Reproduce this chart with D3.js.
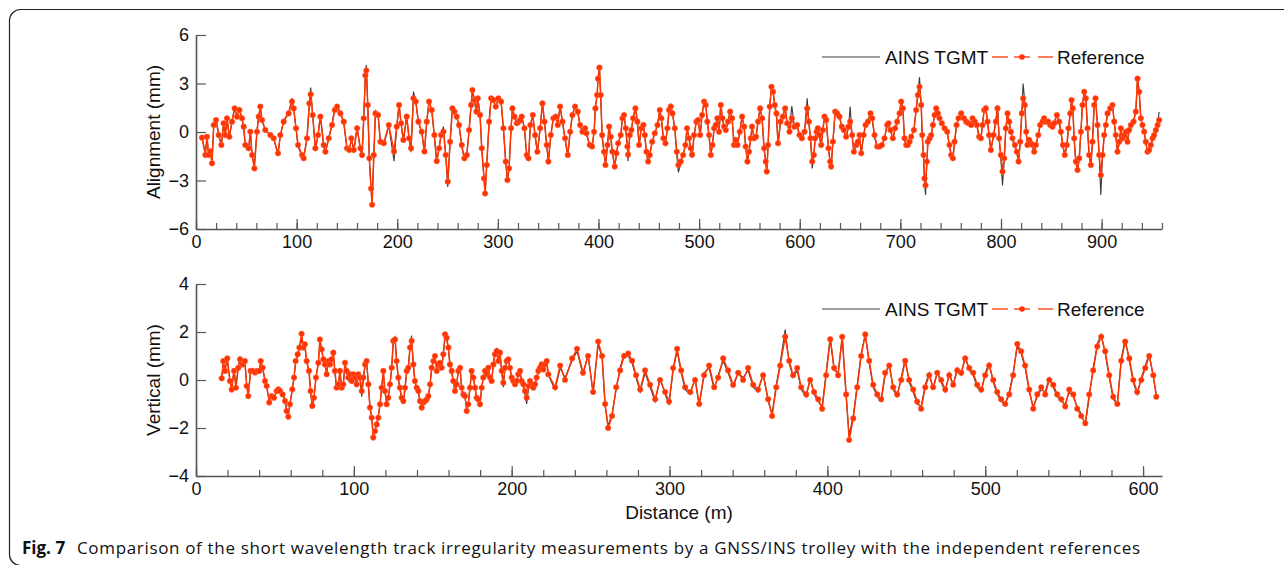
<!DOCTYPE html>
<html>
<head>
<meta charset="utf-8">
<title>Fig. 7</title>
<script src="https://d3js.org/d3.v7.min.js"></script>
<style>
  body { margin: 0; background: #fff; }
  svg text { font-family: "Liberation Sans", Arial, sans-serif; fill: #111; }
  .caption text { font-family: "Open Sans", "Noto Sans", sans-serif; }
  .axis path, .axis line { stroke: #555; }
</style>
</head>
<body>
<svg id="fig" width="1284" height="565"></svg>
<script>
// alignment panel (distance in m, irregularity in mm)
var alignDist = [6.0,9.3,10.9,12.6,14.2,15.9,17.6,19.9,22.5,25.2,27.5,29.2,30.8,33.1,35.8,38.4,40.8,43.1,45.7,47.4,49.0,52.3,54.0,55.7,58.0,60.6,62.3,63.9,65.6,68.9,73.9,77.2,81.5,83.8,87.1,92.1,95.4,97.1,99.4,101.4,105.4,107.0,110.3,112.7,114.0,116.0,118.6,121.3,123.6,126.9,128.6,131.9,135.2,137.9,140.2,143.5,146.8,150.1,152.4,154.4,156.8,160.1,163.4,165.0,166.7,168.3,169.3,170.7,172.3,174.0,175.0,176.7,178.3,181.0,183.3,186.6,191.6,
  196.8,199.5,201.8,203.8,206.1,209.4,211.8,213.7,216.1,218.4,221.0,224.3,227.0,229.3,231.6,234.3,236.9,239.2,241.6,243.6,245.9,248.2,250.2,252.5,254.8,256.8,259.1,261.4,264.1,266.7,269.1,271.4,273.4,274.7,276.7,278.7,280.0,282.3,284.0,286.3,287.3,288.9,291.3,293.3,295.6,297.9,300.5,303.2,305.5,307.8,309.5,311.1,313.1,314.5,316.4,318.8,320.4,322.1,323.7,326.4,328.7,330.4,332.3,334.7,337.0,339.3,342.0,344.3,346.3,348.6,350.2,352.6,355.2,357.5,359.5,361.8,364.2,366.8,369.5,371.8,374.1,376.7,379.4,381.7,384.0,386.7,
  388.0,391.3,393.6,395.6,396.9,398.6,399.6,400.9,402.2,403.6,405.5,406.9,408.9,410.5,412.2,413.8,416.1,417.8,419.5,422.1,423.8,425.4,427.1,428.7,429.4,431.1,432.7,434.4,436.7,438.7,440.3,442.6,444.6,446.0,447.6,449.3,450.9,453.3,455.9,458.6,460.9,462.5,464.5,466.5,468.5,470.1,471.8,473.5,475.8,477.8,479.4,481.7,484.1,486.4,488.0,490.0,491.7,493.0,495.0,497.3,499.0,501.0,503.0,504.9,506.6,508.2,509.9,511.6,513.2,514.9,516.5,518.2,519.8,521.5,523.2,524.8,526.5,528.8,530.8,532.8,534.7,536.1,538.1,540.4,542.7,544.7,546.3,548.0,549.6,551.3,552.6,554.6,556.6,558.6,560.6,562.6,564.6,566.2,567.2,568.5,570.2,571.9,573.5,575.2,576.8,
  578.4,580.9,583.2,585.5,587.5,589.8,592.1,594.8,597.4,599.8,602.1,604.7,607.4,609.0,610.7,612.4,614.0,615.3,616.7,618.0,619.6,621.3,623.0,624.6,626.3,628.6,630.2,631.2,632.9,635.2,637.2,639.5,641.8,643.8,646.1,648.5,650.1,652.1,653.8,656.1,657.7,659.4,661.1,663.4,665.4,667.7,670.3,672.0,674.3,677.0,679.3,681.6,684.2,686.9,688.2,690.2,692.5,694.8,696.8,699.2,700.8,702.5,704.1,705.8,707.4,709.1,710.7,713.4,715.7,717.4,719.0,720.7,721.7,723.0,724.0,725.0,726.3,727.3,729.0,730.6,732.3,734.0,735.6,737.3,738.9,741.2,743.9,746.5,748.8,750.5,752.2,753.8,755.8,757.8,760.4,763.1,765.4,767.7,770.4,
  771.7,774.0,776.0,778.3,780.0,781.6,783.3,784.9,786.6,788.2,789.9,792.6,794.9,796.5,798.2,799.8,801.5,803.2,804.8,806.5,808.1,809.8,811.4,813.8,815.7,817.4,819.1,820.7,822.0,823.7,825.0,826.3,828.0,829.7,831.3,833.0,834.6,837.0,838.9,841.3,842.9,844.6,846.9,848.9,851.2,852.9,855.5,857.8,859.5,861.5,863.4,865.4,867.1,868.8,870.1,871.4,872.7,874.4,876.0,877.7,879.4,881.0,882.7,884.3,886.0,887.6,889.3,890.9,892.6,893.9,895.9,897.6,899.2,900.9,902.5,904.2,905.9,908.5,910.8,912.5,914.1,915.8,917.5,919.1,920.8,922.4,924.1,925.7,927.4,929.1,931.7,934.0,935.7,937.3,939.0,940.6,942.3,943.9,945.6,947.3,948.9,950.6,952.2,953.9,955.6,957.2];
var alignRef = [-0.35,-1.42,-0.29,-1.42,-1.2,-1.94,0.43,0.74,-0.19,-0.80,0.54,-0.19,0.85,-0.29,0.64,1.46,0.95,1.36,0.85,0.33,-0.80,-1.01,0.02,-1.42,-2.25,0.02,0.95,1.57,0.74,0.12,-0.19,-0.39,-1.32,-0.19,0.64,1.15,1.88,1.46,0.23,-0.80,-1.42,-1.63,-0.39,1.77,2.33,1.05,-1.01,-0.19,0.95,-0.80,-1.22,-0.39,0.43,1.36,1.57,1.15,0.64,-1.01,-1.11,-0.39,-1.11,0.23,-1.01,-1.42,0.85,3.50,3.8,1.67,-1.63,-3.50,-4.5,-1.42,1.15,1.05,-0.60,-0.70,0.43,
  -1.2,0.33,1.67,0.54,-0.49,0.95,-0.39,-1.0,2.08,1.88,0.64,0.02,-1.2,0.64,1.88,1.36,-0.19,-1.8,-1.01,-0.19,0.02,-1.42,-3.07,-0.6,1.46,1.26,0.95,0.43,-0.80,-1.63,-1.42,0.12,1.67,2.6,1.98,1.26,2.08,1.05,-1.01,-2.87,-3.8,-2.04,0.64,2.08,1.98,1.57,2.08,1.88,0.23,-1.83,-2.97,-2.25,0.23,1.46,0.95,0.54,0.64,0.74,0.95,0.23,-1.42,-1.63,0.43,1.05,-0.19,-1.22,0.23,1.77,0.64,-0.80,-1.83,-0.19,0.85,0.95,0.43,1.57,0.64,-0.39,-1.42,0.02,1.05,1.57,1.26,0.43,0.02,0.23,
  -0.08,-0.80,-0.90,0.02,1.46,2.29,3.30,3.98,2.29,-0.19,-1.22,-2.04,-0.80,0.33,-0.29,-1.22,-2.14,-1.32,-0.70,-0.19,0.85,1.05,0.23,-0.90,-1.4,-0.19,0.12,0.85,1.46,0.64,-0.80,0.23,0.43,-0.19,-1.22,-1.83,-1.42,-0.60,-0.08,0.43,1.36,0.85,-0.39,-0.70,0.23,1.36,1.57,1.15,0.23,-1.22,-2.04,-1.83,-1.42,-0.80,0.23,-0.39,-1.01,-1.4,-0.19,0.64,0.74,-0.19,1.05,1.88,1.67,0.64,-0.19,-1.42,-0.80,0.23,0.43,0.85,0.02,1.67,0.85,0.33,0.12,0.64,1.26,0.85,-0.80,-0.49,-0.80,0.02,0.95,0.33,-0.90,-1.83,-1.22,-0.39,0.33,-0.39,-0.29,0.64,1.46,0.85,-1.01,-1.83,-2.45,-0.80,1.57,2.80,2.49,1.67,1.15,
  -0.70,0.64,0.95,1.46,0.54,0.02,0.85,0.33,0.43,-0.19,-0.39,0.02,1.46,0.64,-0.39,-1.83,-1.42,-0.39,0.02,0.23,-0.19,-0.80,0.12,0.95,0.74,-1.01,-1.83,-2.14,-0.60,1.26,1.15,0.95,0.33,0.12,-0.29,0.33,0.64,-0.19,-1.22,-0.80,-0.60,-0.19,-1.32,-0.19,0.43,0.64,1.15,0.85,-0.19,-0.90,-0.90,-0.80,-0.39,0.43,0.54,0.12,-0.39,0.23,0.64,1.15,1.88,1.46,-0.39,-0.80,-0.80,-0.60,-0.29,0.12,1.36,2.29,2.80,1.67,-0.19,-1.42,-2.87,-3.30,-1.83,-0.60,-0.39,-0.19,0.43,1.05,1.46,1.15,0.85,0.54,0.23,0.02,-0.80,-1.42,-1.63,-0.60,0.43,0.85,1.15,0.85,0.64,0.54,0.43,
  0.85,0.64,0.43,-0.29,-0.39,0.43,1.36,1.46,0.64,-0.19,-1.11,-0.19,0.64,1.46,-0.39,-1.42,-2.45,-1.63,0.23,1.15,0.64,0.02,-0.39,-0.80,-1.22,-1.83,-0.60,1.15,2.08,1.67,0.02,-0.80,-0.49,-0.70,-0.80,-1.22,-0.80,-0.19,0.43,0.64,0.85,0.64,0.64,0.43,0.33,0.54,1.05,0.64,0.02,-0.80,-1.42,-0.80,0.23,1.15,1.98,1.46,-0.39,-1.83,-2.35,-1.63,0.02,1.67,2.49,2.08,0.23,-1.42,-2.04,-0.60,1.67,2.08,0.43,-1.42,-2.66,-1.42,-0.19,0.43,1.15,1.46,1.67,0.64,-0.19,-1.22,-0.60,0.23,-0.39,-0.19,0.02,-0.60,0.12,0.43,0.64,1.26,3.30,2.49,0.85,0.43,0.02,-0.60,-1.22,-1.11,-0.80,-0.39,-0.19,0.12,0.43,0.74];
var alignAins = [-0.35,-1.3,-0.35,-1.5,-1.1,-1.8,0.35,0.8,-0.1,-0.9,0.6,-0.1,0.9,-0.4,0.7,1.5,1.0,1.45,0.8,0.2,-0.9,-1.1,0.1,-1.5,-2.1,0.1,1.0,1.5,0.7,0.1,-0.2,-0.4,-1.45,-0.2,0.7,1.2,2.1,1.4,0.2,-0.9,-1.5,-1.6,-0.4,1.9,2.75,1.0,-1.1,-0.2,1.1,-0.9,-1.3,-0.4,0.5,1.5,1.6,1.2,0.6,-1.1,-1.2,-0.4,-1.2,0.3,-1.1,-1.6,0.9,3.6,4.15,1.6,-1.8,-3.6,-4.3,-1.6,1.3,1.0,-0.7,-0.8,0.4,
  -1.8,0.3,1.75,0.5,-0.6,1.0,-0.5,-1.25,2.5,1.9,0.6,0.0,-1.3,0.6,1.95,1.3,-0.3,-1.9,-1.0,-0.1,0.33,-1.5,-3.4,-0.7,1.5,1.2,0.9,0.4,-0.9,-1.7,-1.4,0.1,1.7,2.7,1.9,1.2,2.15,1.0,-1.1,-3.0,-3.9,-2.1,0.6,2.1,1.9,1.5,2.15,1.9,0.2,-1.9,-3.1,-2.3,0.2,1.5,0.9,0.5,0.6,0.8,1.0,0.2,-1.5,-1.7,0.4,1.1,-0.3,-1.3,0.2,1.85,0.6,-0.9,-1.9,-0.2,0.9,1.0,0.4,1.65,0.6,-0.5,-1.5,0.0,1.1,1.6,1.2,0.4,0.0,0.2,
  -0.1,-0.9,-1.0,0.0,1.5,2.3,3.4,4.05,2.2,-0.3,-1.3,-2.1,-0.9,0.3,-0.4,-1.3,-2.2,-1.4,-0.7,-0.2,0.9,1.1,0.2,-1.0,-1.8,-0.2,0.1,0.9,1.55,0.6,-0.9,0.3,0.5,-0.2,-1.3,-1.9,-1.5,-0.6,-0.1,0.4,1.4,0.8,-0.5,-0.8,0.2,1.4,1.7,1.2,0.2,-1.4,-2.5,-1.9,-1.4,-0.8,0.3,-0.4,-1.1,-1.6,-0.2,0.7,0.8,-0.2,1.1,1.95,1.7,0.6,-0.3,-1.5,-0.8,0.2,0.5,0.9,0.0,1.75,0.8,0.3,0.1,0.7,1.3,0.8,-0.9,-0.5,-0.9,0.0,1.0,0.3,-1.0,-1.95,-1.2,-0.4,0.4,-0.5,-0.3,0.7,1.5,0.8,-1.1,-1.9,-2.5,-0.9,1.6,2.9,2.5,1.6,1.1,
  -0.8,0.6,1.0,1.5,0.5,0.1,1.6,0.3,0.4,-0.3,-0.5,0.0,2.08,0.6,-0.5,-2.25,-1.5,-0.4,0.0,0.2,-0.3,-0.9,0.1,1.0,0.7,-1.1,-1.9,-2.25,-0.7,1.3,1.1,0.9,0.3,0.1,-0.4,0.3,1.57,-0.3,-1.3,-0.8,-0.7,-0.3,-1.4,-0.2,0.4,0.7,1.2,0.8,-0.3,-1.0,-1.0,-0.9,-0.4,0.5,0.6,0.1,-0.5,0.2,0.7,1.2,2.0,1.4,-0.5,-0.9,-0.9,-0.7,-0.3,0.1,1.4,2.4,3.4,1.7,-0.3,-1.6,-3.1,-3.9,-2.0,-0.7,-0.4,-0.2,0.4,1.1,1.5,1.1,0.8,0.5,0.2,0.0,-0.9,-1.5,-1.7,-0.7,0.4,0.9,1.2,0.8,0.6,0.5,0.4,
  0.9,0.6,0.4,-0.4,-0.5,0.5,1.4,1.6,0.6,-0.3,-1.2,-0.2,0.7,1.67,-0.5,-1.6,-3.3,-1.8,0.2,1.2,0.6,0.0,-0.5,-0.9,-1.3,-1.9,-0.7,1.3,3.0,1.8,0.0,-0.9,-0.6,-0.8,-0.9,-1.3,-0.9,-0.2,0.5,0.7,0.9,0.6,0.6,0.4,0.3,0.6,1.1,0.6,0.0,-0.9,-1.5,-0.9,0.2,1.2,2.1,1.5,-0.5,-1.9,-2.5,-1.7,0.0,1.7,2.6,2.1,0.2,-1.5,-2.15,-0.7,1.7,2.15,0.4,-1.5,-3.9,-1.5,-0.3,0.4,1.2,1.5,1.75,0.6,-0.3,-1.3,-0.7,0.2,-0.5,-0.3,0.0,-0.7,0.1,0.4,0.7,1.3,3.45,2.5,0.8,0.4,0.0,-0.7,-1.3,-1.2,-0.9,-0.5,-0.2,0.2,0.6,1.25];

// vertical panel
var vertDist = [16.3,17.3,18.4,19.8,21.5,22.6,24.1,25.3,26.8,27.9,29.5,31.0,32.1,33.1,34.6,35.9,37.4,38.8,40.1,41.0,42.2,43.7,44.8,46.4,47.9,49.4,51.1,52.2,53.2,54.9,56.4,57.4,58.5,59.5,61.0,62.1,63.1,64.4,65.5,66.9,68.0,69.0,70.1,71.6,72.6,73.7,74.7,76.0,77.5,
  78.5,79.6,80.7,81.7,82.8,83.8,84.9,85.9,87.0,88.0,89.1,90.2,91.2,92.3,93.3,94.4,95.4,96.5,97.6,98.6,99.7,100.7,101.8,102.8,103.9,105.0,106.0,107.1,108.1,109.2,110.2,111.3,112.3,113.4,114.5,115.5,116.6,117.6,118.7,119.7,120.8,121.8,122.9,124.0,125.0,126.1,127.1,128.2,129.2,130.3,131.4,132.4,133.5,134.5,135.6,136.6,137.7,138.7,139.8,140.9,141.9,143.0,144.0,145.1,146.1,147.2,148.3,149.3,150.4,151.4,152.5,153.5,154.6,155.6,156.7,157.8,158.8,159.9,160.9,162.0,163.0,164.1,165.1,166.2,167.3,168.3,169.4,170.4,171.5,172.5,173.6,174.6,175.7,176.8,177.8,178.9,179.9,181.0,182.0,183.1,184.2,185.2,186.3,187.3,188.4,189.4,190.5,191.5,192.6,193.7,194.7,195.8,196.8,197.9,198.9,200.0,201.0,202.1,203.2,204.2,205.3,206.3,207.4,208.4,209.5,210.6,211.6,212.7,213.7,214.8,215.8,216.9,217.9,219.0,220.1,221.1,222.2,223.2,
  227.5,230.7,233.8,238.3,241.4,245.2,248.4,251.6,254.8,257.3,259.2,261.1,263.6,266.2,268.7,271.2,273.8,276.3,278.8,281.4,284.5,287.7,290.9,294.0,297.2,299.7,302.3,304.8,307.4,309.9,313.1,316.2,318.8,321.9,325.1,328.3,330.8,334.0,337.1,340.3,343.5,346.6,349.8,353.0,356.1,359.3,362.5,365.0,367.6,370.1,373.3,375.8,378.3,380.9,383.4,386.6,389.1,391.6,394.2,396.7,399.2,401.8,404.3,406.8,409.4,411.9,413.8,416.4,418.9,421.4,424.0,426.5,429.0,431.6,434.1,436.6,439.2,441.7,444.2,446.8,449.3,451.8,454.4,456.9,459.4,462.0,464.5,467.0,469.6,472.1,474.7,477.2,479.7,482.3,484.8,487.3,489.9,492.4,494.9,497.5,500.0,502.5,505.1,507.6,510.1,512.7,515.2,517.7,520.3,522.8,525.3,527.9,530.4,533.0,535.5,538.0,540.6,543.1,545.6,548.2,550.7,553.2,555.8,558.3,560.8,563.4,565.9,568.4,571.0,573.5,576.0,578.6,581.1,583.7,586.2,588.7,591.3,593.8,596.3,598.9,601.4,603.9,606.5,608.4];
var vertRef = [0.07,0.79,0.38,0.90,-0.04,-0.40,0.38,-0.32,0.51,0.86,0.65,0.79,-0.25,-0.67,0.38,0.38,0.31,0.38,0.38,0.79,0.51,-0.04,-0.25,-0.94,-0.67,-0.74,-0.46,-0.39,-0.46,-0.60,-0.88,-1.29,-1.53,-1.01,-0.39,0.10,0.79,1.07,1.35,1.93,1.35,1.49,0.79,0.38,-0.46,-1.08,-0.74,0.10,0.72,
  1.69,1.28,0.86,0.65,0.24,0.79,0.65,0.86,1.14,0.38,-0.32,-0.18,0.38,-0.32,-0.18,0.72,0.38,0.10,0.24,-0.04,0.24,0.10,-0.18,0.24,0.10,-0.46,0.10,0.65,0.79,-0.18,-1.15,-1.57,-2.40,-2.13,-1.85,-1.57,-1.01,-0.32,0.38,-0.46,-1.01,-0.74,-0.18,0.51,1.63,1.69,0.79,0.10,-0.32,-0.74,-0.88,-0.32,0.38,0.51,1.35,1.63,0.65,-0.04,-0.32,-0.46,-0.88,-1.15,-0.94,-0.88,-0.81,-0.67,-0.18,0.51,0.79,1.00,0.38,0.65,0.72,0.51,1.07,1.90,1.76,1.35,0.65,0.38,-0.04,-0.46,-0.18,0.38,0.51,-0.32,-0.60,-0.67,-1.29,-1.01,-0.32,0.38,0.10,-0.32,-0.74,-0.81,-1.01,-0.32,0.10,0.38,0.24,0.51,0.10,-0.04,0.65,1.07,1.21,0.79,1.14,0.38,-0.11,0.51,0.79,0.86,0.51,0.10,-0.04,-0.18,-0.04,0.24,0.38,-0.04,-0.18,-0.46,-0.74,-0.25,-0.04,-0.18,-0.32,-0.18,0.10,0.38,0.51,0.65,0.44,0.65,0.79,0.24,
  -0.3,0.6,0.0,0.9,1.3,0.3,1.0,-0.5,1.6,1.0,-1.0,-2.0,-1.5,-0.3,0.4,1.0,1.1,0.8,0.2,-0.4,0.4,-0.2,-0.8,0.0,-0.5,-0.9,0.5,1.3,0.4,-0.3,-0.5,0.0,-1.0,0.2,0.6,-0.3,0.1,0.9,0.4,-0.2,0.3,0.0,0.5,-0.2,-0.4,0.2,-0.8,-1.5,-0.3,0.6,1.8,0.8,0.2,0.5,-0.3,-0.6,0.0,-0.5,-0.8,-1.2,0.2,1.7,0.5,0.2,1.8,-0.6,-2.5,-1.6,-0.3,1.0,1.9,0.8,-0.2,-0.6,-0.8,0.3,0.6,-0.3,-0.6,0.0,0.8,0.0,-0.4,-0.9,-1.2,-0.3,0.2,-0.3,0.3,0.0,-0.4,0.2,-0.2,0.4,0.3,0.9,0.5,0.3,-0.2,-0.4,0.2,0.6,0.0,-0.5,-0.8,-1.0,-0.6,0.2,1.5,1.2,0.6,-0.4,-1.2,-0.6,-0.3,-0.6,0.0,-0.2,-0.6,-0.8,-1.1,-0.4,-0.6,-1.2,-1.5,-1.8,-0.6,0.4,1.4,1.8,1.2,0.2,-0.7,-1.0,0.8,1.6,0.9,0.0,-0.5,0.0,0.5,1.0,0.2,-0.7];
var vertAins = [0.1,0.7,0.45,0.85,0.0,-0.35,0.45,-0.25,0.55,0.95,0.7,0.75,-0.2,-0.6,0.4,0.4,0.35,0.4,0.4,0.75,0.5,0.0,-0.3,-0.85,-0.7,-0.7,-0.5,-0.4,-0.45,-0.55,-0.8,-1.2,-1.4,-1.0,-0.4,0.1,0.7,1.0,1.3,1.7,1.3,1.35,0.75,0.35,-0.5,-1.15,-0.8,0.1,0.7,
  1.6,1.2,0.9,0.6,0.3,0.7,0.6,0.8,1.05,0.3,-0.4,-0.2,0.3,-0.4,-0.2,0.6,0.3,0.0,0.2,-0.1,0.2,0.0,-0.3,0.2,0.0,-0.7,0.0,0.6,0.8,-0.2,-1.1,-1.5,-2.3,-2.1,-1.8,-1.5,-1.0,-0.3,0.3,-0.5,-1.0,-0.8,-0.2,0.5,1.7,1.8,0.8,0.0,-0.4,-0.8,-1.0,-0.4,0.3,0.5,1.4,1.85,0.6,-0.1,-0.4,-0.5,-0.9,-1.1,-1.0,-0.9,-0.8,-0.7,-0.2,0.5,0.8,1.0,0.4,0.6,0.7,0.5,1.1,1.8,1.7,1.3,0.6,0.3,-0.1,-0.5,-0.2,0.4,0.5,-0.4,-0.7,-0.7,-1.2,-1.0,-0.3,0.4,0.1,-0.3,-0.8,-0.9,-1.1,-0.3,0.1,0.3,0.2,0.5,0.1,-0.1,0.7,1.2,1.3,0.8,1.1,0.3,-0.3,0.5,0.8,0.9,0.5,0.1,-0.1,-0.2,-0.1,0.2,0.3,-0.1,-0.3,-0.6,-1.0,-0.4,-0.1,-0.2,-0.3,-0.2,0.1,0.3,0.5,0.6,0.4,0.6,0.8,0.2,
  -0.4,0.5,0.1,0.8,1.2,0.2,1.1,-0.6,1.5,0.9,-1.1,-1.9,-1.4,-0.4,0.5,1.1,1.0,0.7,0.1,-0.5,0.3,-0.3,-0.9,0.1,-0.6,-1.0,0.4,1.2,0.3,-0.4,-0.6,0.1,-1.1,0.3,0.5,-0.4,0.2,0.8,0.3,-0.3,0.3,0.1,0.4,-0.3,-0.5,0.3,-0.9,-1.4,-0.2,0.7,2.1,0.7,0.1,0.4,-0.4,-0.7,0.1,-0.6,-0.9,-1.1,0.3,1.8,0.4,0.3,1.8,-0.7,-2.3,-1.5,-0.2,1.1,1.9,0.7,-0.3,-0.7,-0.9,0.2,0.7,-0.4,-0.7,0.1,0.9,-0.1,-0.5,-1.0,-1.1,-0.2,0.3,-0.4,0.3,-0.1,-0.5,0.3,-0.2,0.5,0.2,1.0,0.4,0.2,-0.3,-0.5,0.3,0.7,-0.1,-0.6,-0.9,-1.0,-0.5,0.3,1.4,1.1,0.5,-0.5,-1.1,-0.7,-0.4,-0.5,0.1,-0.3,-0.7,-0.9,-1.0,-0.5,-0.7,-1.1,-1.4,-1.9,-0.7,0.5,1.5,1.9,1.1,0.1,-0.8,-1.0,0.9,1.7,0.8,-0.1,-0.6,0.1,0.6,1.1,0.1,-0.6];

var panels = [
  {title: "Alignment (mm)", top: 35, bottom: 229, xMax: 960, yDomain: [-6, 6], yTicks: [-6, -3, 0, 3, 6],
   xTicks: d3.range(0, 901, 100), legendY: 57, dist: alignDist, ref: alignRef, ains: alignAins},
  {title: "Vertical (mm)", top: 284, bottom: 476, xMax: 612, yDomain: [-4, 4], yTicks: [-4, -2, 0, 2, 4],
   xTicks: d3.range(0, 601, 100), legendY: 309, dist: vertDist, ref: vertRef, ains: vertAins}
];

var left = 196, right = 1162;
var red = "#ff3300";
var svg = d3.select("#fig");

// rounded frame of the figure
svg.append("rect")
  .attr("x", 9.5).attr("y", 9.5)
  .attr("width", 1300).attr("height", 556)
  .attr("rx", 11)
  .attr("fill", "none").attr("stroke", "#222").attr("stroke-width", 1.2);

panels.forEach(function(p){
  var x = d3.scaleLinear().domain([0, p.xMax]).range([left, right]);
  var y = d3.scaleLinear().domain(p.yDomain).range([p.bottom, p.top]);
  var g = svg.append("g");

  var n = Math.min(p.dist.length, p.ref.length, p.ains.length);
  var rows = d3.range(n).map(function(i){ return {d: p.dist[i], r: p.ref[i], a: p.ains[i]}; });

  g.append("path").datum(rows)
    .attr("fill", "none").attr("stroke", "#3a3a3a").attr("stroke-width", 1.1)
    .attr("d", d3.line().x(function(d){ return x(d.d); }).y(function(d){ return y(d.a); }));

  g.append("path").datum(rows)
    .attr("fill", "none").attr("stroke", red).attr("stroke-width", 1.5)
    .attr("d", d3.line().x(function(d){ return x(d.d); }).y(function(d){ return y(d.r); }));

  g.selectAll("circle.dot").data(rows).enter().append("circle")
    .attr("class", "dot")
    .attr("cx", function(d){ return x(d.d); })
    .attr("cy", function(d){ return y(d.r); })
    .attr("r", 2.8)
    .attr("fill", red)
    .attr("stroke", "#ff6a4a").attr("stroke-width", 0.5);

  // axes, ticks pointing inwards
  var minor = g.append("g").attr("class", "axis")
    .attr("transform", "translate(0," + p.bottom + ")")
    .call(d3.axisBottom(x).tickValues(d3.range(0, p.xMax + 1, 20)).tickSize(-6).tickFormat(""));
  minor.select(".domain").remove();

  var xa = g.append("g").attr("class", "axis")
    .attr("transform", "translate(0," + p.bottom + ")")
    .call(d3.axisBottom(x).tickValues(p.xTicks).tickSize(-10).tickSizeOuter(0).tickPadding(6));
  xa.selectAll("text").attr("font-size", 18);

  var ya = g.append("g").attr("class", "axis")
    .attr("transform", "translate(" + left + ",0)")
    .call(d3.axisLeft(y).tickValues(p.yTicks).tickSize(-10).tickSizeOuter(0).tickPadding(7));
  ya.selectAll("text").attr("font-size", 18);
  g.selectAll(".axis .domain").attr("stroke-width", 1.6);
  g.selectAll(".axis line").attr("stroke-width", 1.2);

  g.append("text")
    .attr("transform", "translate(160," + ((p.top + p.bottom) / 2) + ") rotate(-90)")
    .attr("text-anchor", "middle")
    .attr("font-size", 19)
    .text(p.title);

  // legend
  var ly = p.legendY;
  var lg = g.append("g");
  lg.append("line").attr("x1", 822).attr("x2", 880).attr("y1", ly).attr("y2", ly)
    .attr("stroke", "#3a3a3a").attr("stroke-width", 1.1);
  lg.append("text").attr("x", 885).attr("y", ly + 7).attr("font-size", 19).text("AINS TGMT");
  [[992, 1008], [1014, 1030], [1038, 1053]].forEach(function(s){
    lg.append("line").attr("x1", s[0]).attr("x2", s[1]).attr("y1", ly).attr("y2", ly)
      .attr("stroke", red).attr("stroke-width", 1.3);
  });
  lg.append("circle").attr("cx", 1022).attr("cy", ly).attr("r", 2.8).attr("fill", red);
  lg.append("text").attr("x", 1057).attr("y", ly + 7).attr("font-size", 19).text("Reference");
});

svg.append("text")
  .attr("x", 679).attr("y", 519)
  .attr("text-anchor", "middle")
  .attr("font-size", 19)
  .text("Distance (m)");

var cap = svg.append("g").attr("class", "caption");
cap.append("text").attr("x", 22).attr("y", 554).attr("font-size", 17)
  .attr("font-weight", "bold").text("Fig. 7");
cap.append("text").attr("x", 77).attr("y", 554).attr("font-size", 17)
  .attr("textLength", 1063).attr("lengthAdjust", "spacing")
  .text("Comparison of the short wavelength track irregularity measurements by a GNSS/INS trolley with the independent references");
</script>
</body>
</html>
